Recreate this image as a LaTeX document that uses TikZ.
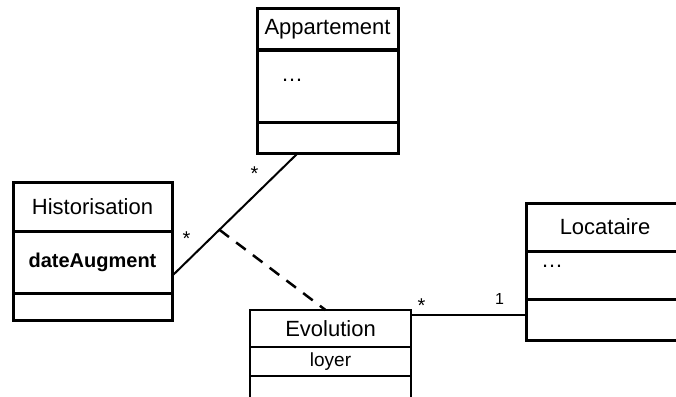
\documentclass[tikz,border=0pt]{standalone}
\usepackage{fontspec}
\setmainfont{Liberation Sans}
\usetikzlibrary{positioning}

\tikzset{
  cls/.style={draw, line width=3pt, inner sep=0pt, outer sep=0pt,
    font=\fontsize{22pt}{26pt}\selectfont},
  thincls/.style={cls, line width=2pt},
  mult/.style={inner sep=0pt, anchor=base, font=\fontsize{20pt}{24pt}\selectfont},
  dots/.style={inner sep=0pt, anchor=base west, font=\fontsize{22pt}{26pt}\selectfont},
}

\begin{document}
\begin{tikzpicture}[x=1pt, y=-1pt]
\useasboundingbox (0,0) rectangle (676,396);

% classes
\node[cls, minimum width=141pt, minimum height=41pt] (app) at (327.5,29.5) {Appartement};
\node[cls, minimum width=141pt, minimum height=72pt, below=0pt of app] (appattr) {};
\node[cls, minimum width=141pt, minimum height=31pt, below=0pt of appattr] (appops) {};
\node[dots] (appdots) at ([xshift=24pt, yshift=-31pt]appattr.north west) {…};

\node[cls, minimum width=159pt, minimum height=49pt] (hist) at (92.5,206.5) {Historisation};
\node[cls, minimum width=159pt, minimum height=62pt, below=0pt of hist,
  font=\fontsize{20pt}{24pt}\selectfont\bfseries] (histattr) {dateAugment};
\node[cls, minimum width=159pt, minimum height=27pt, below=0pt of histattr] (histops) {};

\node[thincls, minimum width=161pt, minimum height=37pt] (evo) at (330.5,328.5) {Evolution};
\node[thincls, minimum width=161pt, minimum height=29pt, below=0pt of evo,
  font=\fontsize{19pt}{22pt}\selectfont] (evoattr) {loyer};
\node[thincls, minimum width=161pt, minimum height=34pt, below=0pt of evoattr] (evoops) {};

\node[cls, minimum width=158pt, minimum height=48pt] (loc) at (605,227) {Locataire};
\node[cls, minimum width=158pt, minimum height=48pt, below=0pt of loc] (locattr) {};
\node[cls, minimum width=158pt, minimum height=41pt, below=0pt of locattr] (locops) {};
\node[dots] (locdots) at ([xshift=15pt, yshift=-16pt]locattr.north west) {…};

% associations
\coordinate (histend) at ([yshift=-14pt]histattr.east);
\coordinate (append) at ([xshift=41pt]appops.south west);
\draw[line width=2pt] (histend) -- coordinate[pos=0.376] (assoc) (append);
\draw[line width=2.5pt, dash pattern=on 12pt off 9pt] (assoc) -- ([xshift=-5pt]evo.north);

\coordinate (evoend) at ([yshift=-5pt]evo.north east);
\draw[line width=1.2pt] (evoend) -- (evoend -| locops.west);

% multiplicities
\node[mult] (multapp) at (254.5,180) {*};
\node[mult] (multhist) at (186.5,245) {*};
\node[mult] (multevo) at (421.5,312) {*};
\node[mult, font=\fontsize{16pt}{19pt}\selectfont] (multloc) at (499.5,304) {1};
\end{tikzpicture}
\end{document}
